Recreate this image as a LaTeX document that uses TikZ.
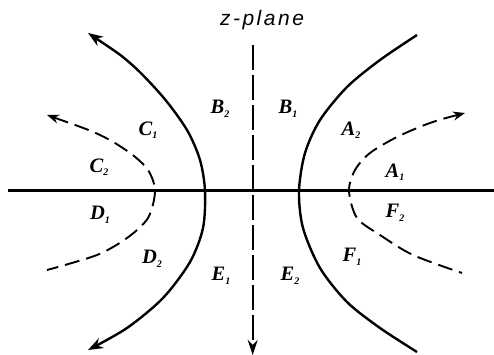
\documentclass[tikz,border=0pt]{standalone}
\usepackage{fontspec}
\newfontfamily\zfont[LetterSpace=12]{Liberation Sans}
\newfontfamily\lblfont{Liberation Serif}
\usetikzlibrary{arrows.meta}
\newcommand{\rlab}[2]{{\lblfont\bfseries\itshape\fontsize{20.5}{20.5}\selectfont #1\raisebox{-3.5pt}{\fontsize{10}{10}\selectfont #2}}}
\begin{document}
\begin{tikzpicture}[x=1pt,y=-1pt,
  solidcurve/.style={line width=2.4pt},
  dashcurve/.style={line width=1.9pt, dash pattern=on 15pt off 7pt},
  lbl/.style={inner sep=0pt}]
\useasboundingbox (0,0) rectangle (494,355);
% real axis
\draw[line width=2.4pt] (8,190.5) -- (494,190.5);
% imaginary axis (dashed, arrow down)
\coordinate (vtop) at (252.7,45);
\coordinate (vbot) at (252.7,355);
\draw[line width=1.9pt, dash pattern=on 25pt off 5pt, -{Stealth[length=15pt,width=10pt]}] (vtop) -- (vbot);
% left solid branch
\draw[solidcurve, {Stealth[length=15pt,width=11pt]}-{Stealth[length=15pt,width=11pt]}] plot[smooth] coordinates
  {(88,33) (130,63) (163,97) (187,130) (200,160) (205,191) (203,228) (190,262) (163,298) (127,328) (88,350)};
% right solid branch
\draw[solidcurve] plot[smooth] coordinates
  {(417,35) (380,60) (347,87) (320,120) (305,153) (299,191) (303,228) (320,268) (347,302) (380,328) (417,352)};
% left dashed branch
\draw[dashcurve, {Stealth[length=12pt,width=9pt]}-] plot[smooth] coordinates
  {(47,115) (100,135) (130,153) (148,170) (155,191) (148,218) (127,238) (97,255) (47,270)};
% right dashed branch
\draw[dashcurve, {Stealth[length=12pt,width=9pt]}-] plot[smooth] coordinates
  {(465,113) (430,123) (397,137) (370,153) (355,170) (349,191) (357,218) (380,235) (413,255) (462,273)};
% title
\node[inner sep=0pt] (title) at (262,20) {\zfont\itshape\fontsize{21}{21}\selectfont z-plane};
% region labels
\node[lbl] (B2) at (220,109) {\rlab{B}{2}};
\node[lbl] (B1) at (288,109) {\rlab{B}{1}};
\node[lbl] (C1) at (148,130) {\rlab{C}{1}};
\node[lbl] (C2) at (99,167) {\rlab{C}{2}};
\node[lbl] (A2) at (351,130) {\rlab{A}{2}};
\node[lbl] (A1) at (395,172) {\rlab{A}{1}};
\node[lbl] (D1) at (100,215) {\rlab{D}{1}};
\node[lbl] (D2) at (152,259) {\rlab{D}{2}};
\node[lbl] (E1) at (221,276) {\rlab{E}{1}};
\node[lbl] (E2) at (290,276) {\rlab{E}{2}};
\node[lbl] (F2) at (395,213) {\rlab{F}{2}};
\node[lbl] (F1) at (352,257) {\rlab{F}{1}};
\end{tikzpicture}
\end{document}
